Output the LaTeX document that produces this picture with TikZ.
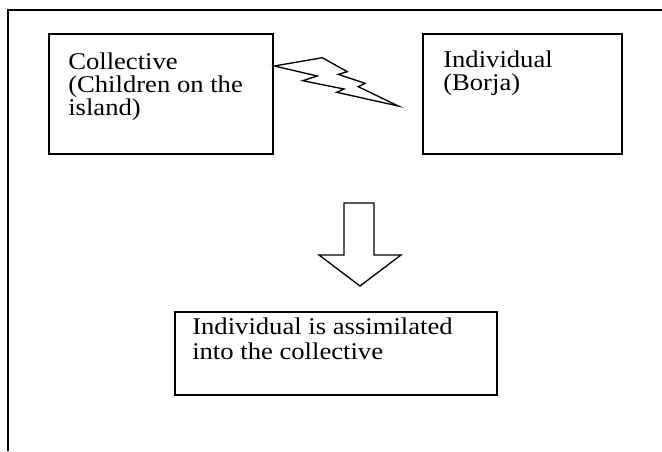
\documentclass[tikz,border=0pt]{standalone}
\usepackage{fontspec}
\setmainfont[FakeStretch=1.11]{Liberation Serif}
\begin{document}
\begin{tikzpicture}[x=0.75pt,y=-0.75pt,
  frameline/.style={line width=1.4pt},
  boxline/.style={draw,line width=1.3pt,inner sep=0pt},
  boltline/.style={line width=1pt,line join=miter},
  label/.style={inner sep=0pt,align=left,anchor=base west,font=\fontsize{18}{17.2}\selectfont}]
\useasboundingbox (0,0) rectangle (662,451);
% outer frame (open at right and bottom)
\coordinate (fr1) at (8,451);
\coordinate (fr2) at (8,10);
\coordinate (fr3) at (662,10);
\draw[frameline] (fr1) -- (fr2) -- (fr3);
% boxes
\node[boxline,minimum width=168pt,minimum height=90pt] (coll) at (161,94) {};
\node[boxline,minimum width=149.25pt,minimum height=90pt] (indiv) at (522.5,94) {};
\node[boxline,minimum width=241.5pt,minimum height=62.25pt] (res) at (336,353.5) {};
% texts
\node[label] (colltext) at (68,115) {Collective\\(Children on the\\island)};
\node[label] (indivtext) at (443,90.5) {Individual\\(Borja)};
\node[label,font=\fontsize{18}{18.6}\selectfont] (restext) at (192,359) {Individual is assimilated\\into the collective};
% lightning bolt
\draw[boltline] (274.3,66) -- (322.3,57.7) -- (347.3,71.7) -- (338.3,74.3)
  -- (365,83.3) -- (358.3,86.7) -- (398.3,106) -- (336.7,92.3) -- (344,89)
  -- (302.7,80.7) -- (317.3,76) -- cycle;
% block arrow down
\draw[line width=1pt,line join=miter] (344,203) -- (374,203) -- (374,255) -- (401,255)
  -- (360,286) -- (319,255) -- (344,255) -- cycle;
\end{tikzpicture}
\end{document}
